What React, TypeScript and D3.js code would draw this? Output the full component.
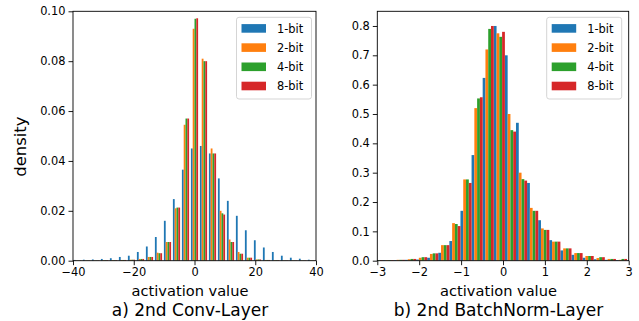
import React, { useEffect, useRef } from 'react';
import * as d3 from 'd3';

const seriesNames = ['1-bit', '2-bit', '4-bit', '8-bit'];
const seriesColors = ['#1f77b4', '#ff7f0e', '#2ca02c', '#d62728'];

// a) 2nd Conv-Layer : 27 bins over [-40, 40]
const convRange = [-40, 40];
const convBinCount = 27;
const conv1 = [0.0003, 0.0004, 0.0005, 0.0007, 0.001, 0.0015, 0.002, 0.0035, 0.0057, 0.0095, 0.016, 0.0247, 0.0365, 0.045, 0.046, 0.043, 0.033, 0.024, 0.018, 0.0122, 0.0082, 0.0053, 0.0035, 0.002, 0.0012, 0.0008, 0.0004];
const conv2 = [0.0001, 0.0001, 0.0001, 0.0002, 0.0002, 0.0003, 0.0004, 0.0007, 0.0015, 0.0032, 0.0075, 0.021, 0.0545, 0.093, 0.081, 0.045, 0.02, 0.0085, 0.0035, 0.0012, 0.0005, 0.0003, 0.0002, 0.0001, 0.0001, 0.0001, 0.0001];
const conv4 = [0.0001, 0.0001, 0.0001, 0.0002, 0.0002, 0.0003, 0.0004, 0.0007, 0.0015, 0.003, 0.0075, 0.0213, 0.057, 0.097, 0.08, 0.043, 0.019, 0.0075, 0.0028, 0.0012, 0.0005, 0.0003, 0.0002, 0.0001, 0.0001, 0.0001, 0.0001];
const conv8 = [0.0001, 0.0001, 0.0001, 0.0002, 0.0002, 0.0003, 0.0004, 0.0007, 0.0015, 0.003, 0.0075, 0.0213, 0.057, 0.0972, 0.08, 0.043, 0.0185, 0.0075, 0.0028, 0.0012, 0.0005, 0.0003, 0.0002, 0.0001, 0.0001, 0.0001, 0.0001];
const convTicksX = [-40, -20, 0, 20, 40];
const convTicksY = [0, 0.02, 0.04, 0.06, 0.08, 0.1];

// b) 2nd BatchNorm-Layer : bins of width 0.265 starting at -3.135
const bnBinStart = -3.135;
const bnBinWidth = 0.265;
const bnBinCount = 24;
const bn1 = [0.002, 0.002, 0.002, 0.003, 0.004, 0.01, 0.027, 0.067, 0.17, 0.36, 0.623, 0.8, 0.7, 0.47, 0.265, 0.138, 0.07, 0.035, 0.02, 0.01, 0.005, 0.003, 0.002, 0.002];
const bn2 = [0.002, 0.002, 0.003, 0.005, 0.01, 0.023, 0.053, 0.128, 0.277, 0.52, 0.72, 0.775, 0.5, 0.3, 0.18, 0.11, 0.065, 0.042, 0.026, 0.016, 0.009, 0.006, 0.003, 0.004];
const bn4 = [0.002, 0.002, 0.003, 0.006, 0.012, 0.025, 0.053, 0.125, 0.277, 0.553, 0.79, 0.763, 0.445, 0.278, 0.17, 0.105, 0.065, 0.042, 0.026, 0.016, 0.012, 0.006, 0.006, 0.006];
const bn8 = [0.002, 0.002, 0.003, 0.006, 0.012, 0.025, 0.053, 0.118, 0.265, 0.557, 0.8, 0.78, 0.44, 0.273, 0.17, 0.105, 0.065, 0.042, 0.026, 0.016, 0.012, 0.006, 0.006, 0.006];
const bnTicksX = [-3, -2, -1, 0, 1, 2, 3];
const bnTicksY = [0, 0.1, 0.2, 0.3, 0.4, 0.5, 0.6, 0.7, 0.8];

const FONT = 'DejaVu Sans';
const width = 639;
const height = 321;
const top = 11.3;
const bottom = 260.7;

function drawPanel(svg, o) {
  const x = d3.scaleLinear().domain(o.xDomain).range([o.left, o.right]);
  const y = d3.scaleLinear().domain([0, o.yMax]).range([bottom, top]);

  const clipId = 'clip-' + o.id;
  svg.append('clipPath').attr('id', clipId)
    .append('rect')
    .attr('x', o.left).attr('y', top)
    .attr('width', o.right - o.left).attr('height', bottom - top);

  const bars = svg.append('g').attr('clip-path', `url(#${clipId})`);
  const n = o.series.length;
  o.series.forEach((vals, si) => {
    bars.selectAll(null)
      .data(vals.map((v, i) => ({ v, e: o.binLefts[i] })))
      .enter().append('rect')
      .attr('x', d => x(d.e + o.binWidth * ((1 - o.rwidth) / 2 + si * o.rwidth / n)))
      .attr('width', d => x(d.e + o.binWidth * o.rwidth / n) - x(d.e))
      .attr('y', d => y(d.v))
      .attr('height', d => bottom - y(d.v))
      .attr('fill', seriesColors[si]);
  });

  // axes
  const xAxis = svg.append('g')
    .attr('transform', `translate(0,${bottom})`)
    .call(d3.axisBottom(x).tickValues(o.xTicks).tickFormat(d => (d < 0 ? '\u2212' : '') + Math.abs(d)).tickSizeInner(4.5).tickSizeOuter(0).tickPadding(2.5));
  const yAxis = svg.append('g')
    .attr('transform', `translate(${o.left},0)`)
    .call(d3.axisLeft(y).tickValues(o.yTicks).tickFormat(d => d.toFixed(o.yDigits)).tickSizeInner(4.5).tickSizeOuter(0).tickPadding(3));
  [xAxis, yAxis].forEach(a => {
    a.attr('font-family', FONT).attr('font-size', 11.4);
    a.select('.domain').remove();
    a.selectAll('line').attr('stroke', '#000').attr('stroke-width', 0.9);
    a.selectAll('text').attr('fill', '#000');
  });

  // spines
  svg.append('rect')
    .attr('x', o.left).attr('y', top)
    .attr('width', o.right - o.left).attr('height', bottom - top)
    .attr('fill', 'none').attr('stroke', '#000').attr('stroke-width', 0.9);

  // legend
  const lg = svg.append('g').attr('font-family', FONT).attr('font-size', 11.4);
  lg.append('rect')
    .attr('x', o.legendX).attr('y', 17.3)
    .attr('width', 75).attr('height', 81.7)
    .attr('rx', 2.5)
    .attr('fill', 'white').attr('fill-opacity', 0.8)
    .attr('stroke', '#d0d0d0').attr('stroke-width', 0.9);
  seriesNames.forEach((name, i) => {
    const cy = 28.4 + i * 19.2;
    lg.append('rect')
      .attr('x', o.legendX + 5).attr('y', cy - 4.3)
      .attr('width', 24.5).attr('height', 8.6)
      .attr('fill', seriesColors[i]);
    lg.append('text')
      .attr('x', o.legendX + 40.5).attr('y', cy + 4.2)
      .attr('fill', '#000')
      .text(name);
  });

  const cx = (o.left + o.right) / 2 - 4.5;
  svg.append('text')
    .attr('x', cx).attr('y', 296)
    .attr('text-anchor', 'middle')
    .attr('font-family', FONT).attr('font-size', 14.6)
    .text('activation value');
  svg.append('text')
    .attr('x', cx).attr('y', 315.5)
    .attr('text-anchor', 'middle')
    .attr('font-family', FONT).attr('font-size', 17)
    .text(o.title);
}

const App = () => {
  const svgRef = useRef(null);

  useEffect(() => {
    if (!svgRef.current) return;
    document.body.style.margin = '0';
    const svg = d3.select(svgRef.current);
    svg.selectAll('*').remove();

    const convBw = (convRange[1] - convRange[0]) / convBinCount;
    const convLefts = d3.range(convBinCount).map(i => convRange[0] + i * convBw);
    const bnLefts = d3.range(bnBinCount).map(i => bnBinStart + i * bnBinWidth);

    drawPanel(svg, {
      id: 'conv', left: 73, right: 316, xDomain: convRange, yMax: 0.1,
      binLefts: convLefts, binWidth: convBw, rwidth: 0.8,
      series: [conv1, conv2, conv4, conv8],
      xTicks: convTicksX, yTicks: convTicksY, yDigits: 2,
      legendX: 236.5, title: 'a) 2nd Conv-Layer',
    });
    drawPanel(svg, {
      id: 'bn', left: 377.3, right: 628.7, xDomain: [-3, 3], yMax: 0.85,
      binLefts: bnLefts, binWidth: bnBinWidth, rwidth: 1,
      series: [bn1, bn2, bn4, bn8],
      xTicks: bnTicksX, yTicks: bnTicksY, yDigits: 1,
      legendX: 546.7, title: 'b) 2nd BatchNorm-Layer',
    });

    svg.append('text')
      .attr('transform', 'translate(26,146.7) rotate(-90)')
      .attr('text-anchor', 'middle')
      .attr('font-family', FONT).attr('font-size', 16.4)
      .text('density');
  }, []);

  return (
    <div>
      <svg ref={svgRef} width={width} height={height} style={{ display: 'block', background: 'white' }}></svg>
    </div>
  );
};

export default App;
